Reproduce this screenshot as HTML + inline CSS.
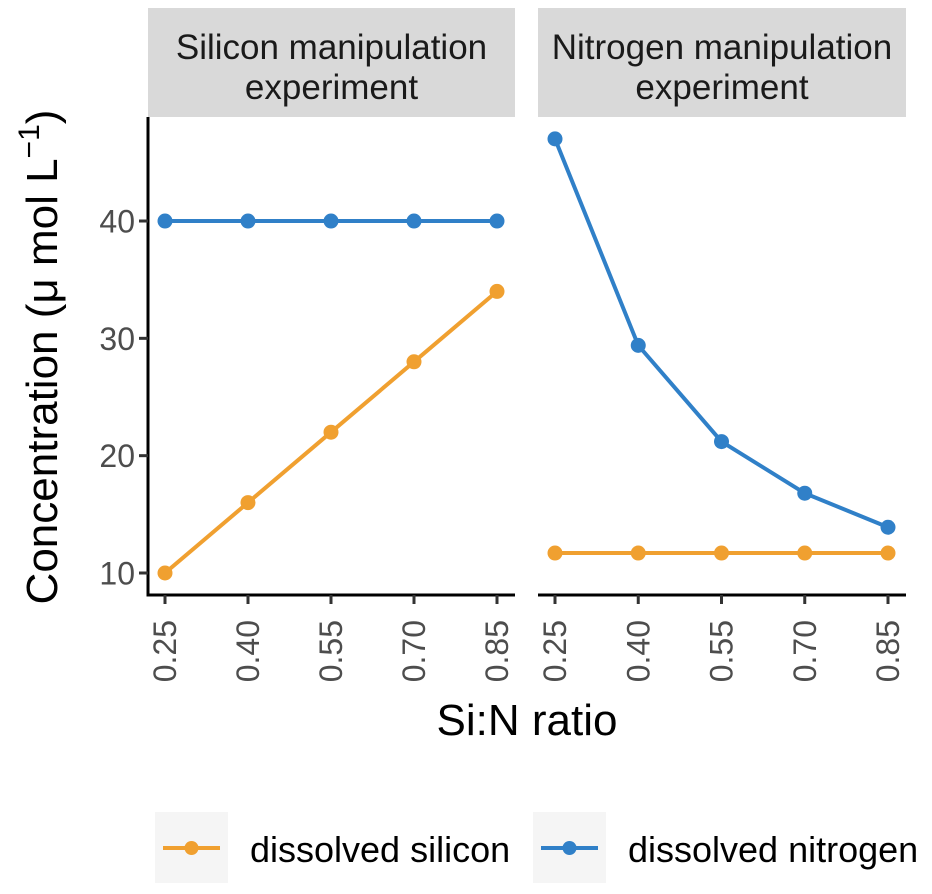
<!DOCTYPE html>
<html><head><meta charset="utf-8"><style>
html,body{margin:0;padding:0;background:#fff;}
svg text{font-family:"Liberation Sans",sans-serif;}
</style></head><body>
<svg id="c" width="932" height="889" xmlns="http://www.w3.org/2000/svg">
<rect width="932" height="889" fill="#fff"/>
<g>
<rect x="148" y="8" width="367" height="109" fill="#d9d9d9"/>
<text x="331.5" y="59" font-size="35" text-anchor="middle" fill="#1a1a1a">Silicon manipulation</text>
<text x="331.5" y="99" font-size="35" text-anchor="middle" fill="#1a1a1a">experiment</text>
</g>
<g>
<rect x="538" y="8" width="368" height="109" fill="#d9d9d9"/>
<text x="722" y="59" font-size="35" text-anchor="middle" fill="#1a1a1a">Nitrogen manipulation</text>
<text x="722" y="99" font-size="35" text-anchor="middle" fill="#1a1a1a">experiment</text>
</g>
<g id="plot"></g>
<text x="527" y="735" font-size="44" text-anchor="middle" fill="#000">Si:N ratio</text>
<text transform="translate(57,357) rotate(-90)" font-size="44" text-anchor="middle" fill="#000">Concentration (μ mol L<tspan dy="-18" font-size="30">−1</tspan><tspan dy="18">)</tspan></text>
<g>
<g>
<rect x="155" y="812" width="73" height="71" fill="#f5f5f5"/>
<line x1="163" y1="848" x2="220" y2="848" stroke="#F0A030" stroke-width="4"/>
<circle cx="191.5" cy="848" r="7" fill="#F0A030"/>
<text x="250" y="862" font-size="36" fill="#000">dissolved silicon</text>
</g>
<g>
<rect x="533" y="812" width="73" height="71" fill="#f5f5f5"/>
<line x1="541" y1="848" x2="598" y2="848" stroke="#3080C8" stroke-width="4"/>
<circle cx="569.5" cy="848" r="7" fill="#3080C8"/>
<text x="628" y="862" font-size="36" fill="#000">dissolved nitrogen</text>
</g>
</g>
</svg>
<script>
const categories=["0.25","0.40","0.55","0.70","0.85"];
const yTicks=[10,20,30,40];
const siliconExpSi=[10,16,22,28,34];
const siliconExpN=[40,40,40,40,40];
const nitrogenExpSi=[11.7,11.7,11.7,11.7,11.7];
const nitrogenExpN=[47,29.4,21.2,16.8,13.9];
const NS="http://www.w3.org/2000/svg";
const g=document.getElementById('plot');
function mk(t,a){const e=document.createElementNS(NS,t);for(const k in a)e.setAttribute(k,a[k]);g.appendChild(e);return e;}
function y(v){return 573-(v-10)*11.733;}
const panels=[{x0:148,x1:515,si:siliconExpSi,n:siliconExpN,name:'silicon-panel',yaxis:true},{x0:538,x1:906,si:nitrogenExpSi,n:nitrogenExpN,name:'nitrogen-panel',yaxis:false}];
panels.forEach(p=>{
  const xs=i=>p.x0+17+i*(p.x1-p.x0-35)/(categories.length-1);
  const xa=mk('line',{x1:p.x0,y1:595,x2:p.x1,y2:595,stroke:'#000','stroke-width':3});
  
  
  categories.forEach((c,i)=>{
    const tk=mk('line',{x1:xs(i),y1:595,x2:xs(i),y2:604,stroke:'#333','stroke-width':3});
    
    
    const t=mk('text',{transform:`translate(${xs(i)+11},620) rotate(-90)`,'font-size':32,fill:'#4d4d4d','text-anchor':'end'});
    t.textContent=c;
    
    
  });
  if(p.yaxis){
    const ya=mk('line',{x1:p.x0,y1:117,x2:p.x0,y2:596.5,stroke:'#000','stroke-width':3});
    
    
    yTicks.forEach(v=>{
      const tk=mk('line',{x1:p.x0-9,y1:y(v),x2:p.x0,y2:y(v),stroke:'#333','stroke-width':3});
      
      
      const t=mk('text',{x:p.x0-13,y:y(v)+11.5,'font-size':32,fill:'#4d4d4d','text-anchor':'end'});
      t.textContent=v;
      
      
    });
  }
  [[p.si,'#F0A030','silicon'],[p.n,'#3080C8','nitrogen']].forEach(([d,col,nm])=>{
    const pl=mk('polyline',{points:d.map((v,i)=>xs(i)+','+y(v)).join(' '),fill:'none',stroke:col,'stroke-width':4});
    
    
    d.forEach((v,i)=>{
      const c=mk('circle',{cx:xs(i),cy:y(v),r:7.5,fill:col});
      
      
    });
  });
});
</script>
</body></html>
